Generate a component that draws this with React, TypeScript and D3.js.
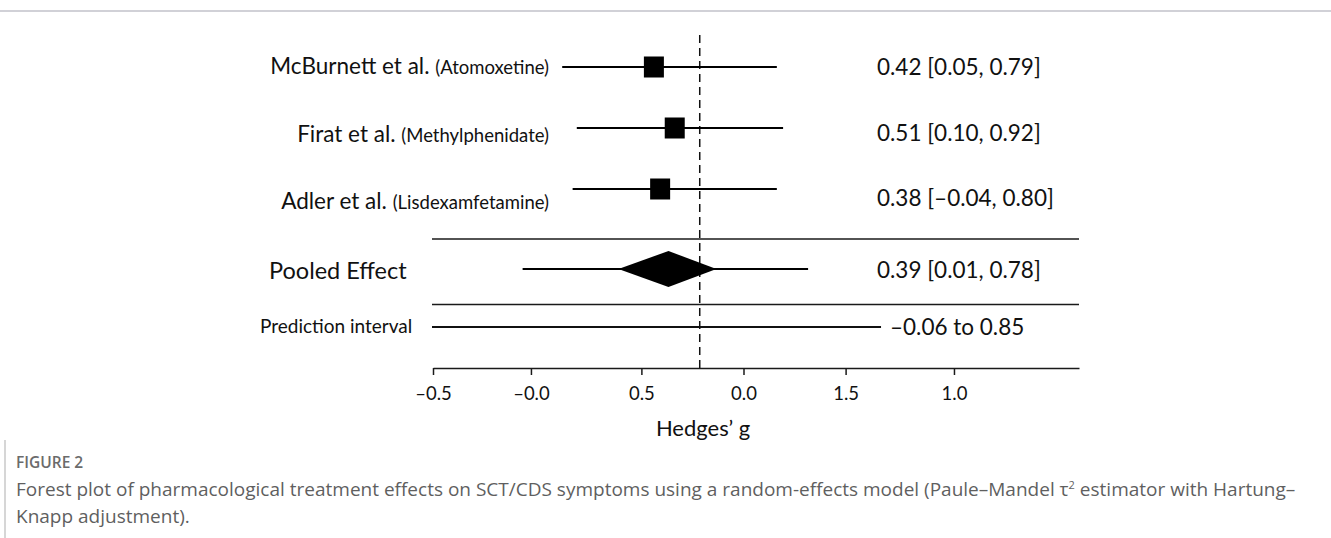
import React, { useEffect, useRef } from "react";
import * as d3 from "d3";

// study rows
const studyNames = ["McBurnett et al.", "Firat et al.", "Adler et al."];
const studyDrugs = ["(Atomoxetine)", "(Methylphenidate)", "(Lisdexamfetamine)"];
// positions (axis units)
const studyEffects = [0.56, 0.66, 0.59];
const studyLower = [0.12, 0.19, 0.17];
const studyUpper = [1.15, 1.18, 1.15];
const studyLabels = ["0.42 [0.05, 0.79]", "0.51 [0.10, 0.92]", "0.38 [–0.04, 0.80]"];

// pooled effect: diamond [low, est, high] and whisker [low, high]
const pooledDiamond = [0.39, 0.63, 0.86];
const pooledWhisker = [-0.07, 1.3];
const pooledLabel = "0.39 [0.01, 0.78]";

const predictionInterval = [-0.5, 1.65];
const predictionLabel = "–0.06 to 0.85";

const refLine = 0.78;

// axis ticks as printed in the figure
const tickValues = [-0.5, -0.03, 0.5, 0.99, 1.48, 2.0];
const tickLabels = ["–0.5", "–0.0", "0.5", "0.0", "1.5", "1.0"];

const FONT = "Lato, 'Open Sans', sans-serif";
const CAPTION_FONT = "'Open Sans', sans-serif";

const ForestPlot = () => {
  const chartRef = useRef(null);

  useEffect(() => {
    drawChart();
  }, []);

  const drawChart = () => {
    const width = 1331;
    const height = 538;

    const svg = d3.select(chartRef.current).attr("width", width).attr("height", height);
    svg.selectAll("*").remove();

    const x = d3.scaleLinear().domain([-0.5, 2.6]).range([433, 1079]);

    // study rows: line position, left label baseline, right label baseline
    const yRow = d3.scalePoint().domain(studyNames).range([67, 189]);
    const yName = d3.scalePoint().domain(studyNames).range([74, 209]);
    const yValue = d3.scalePoint().domain(studyNames).range([75, 206]);

    const yPooled = 269;
    const yPred = 327;
    const yAxis = 368;

    // top rule of the page
    svg
      .append("line")
      .attr("x1", 0)
      .attr("x2", width)
      .attr("y1", 11)
      .attr("y2", 11)
      .attr("stroke", "#a3a3b0")
      .attr("stroke-width", 1.2);

    // separators
    [239, 304.5].forEach((yy) => {
      svg
        .append("line")
        .attr("x1", x(-0.5) - 1)
        .attr("x2", x(2.6))
        .attr("y1", yy)
        .attr("y2", yy)
        .attr("stroke", "#1a1a1a")
        .attr("stroke-width", 1.6);
    });

    // reference dashed line
    svg
      .append("line")
      .attr("x1", x(refLine))
      .attr("x2", x(refLine))
      .attr("y1", 35)
      .attr("y2", yAxis)
      .attr("stroke", "#111")
      .attr("stroke-width", 1.5)
      .attr("stroke-dasharray", "8,5");

    // study whiskers + squares
    studyNames.forEach((name, i) => {
      const cy = yRow(name);
      svg
        .append("line")
        .attr("x1", x(studyLower[i]))
        .attr("x2", x(studyUpper[i]))
        .attr("y1", cy)
        .attr("y2", cy)
        .attr("stroke", "#000")
        .attr("stroke-width", 2);
      svg
        .append("rect")
        .attr("x", x(studyEffects[i]) - 10)
        .attr("y", cy - 10.5)
        .attr("width", 20)
        .attr("height", 21)
        .attr("fill", "#000");

      const label = svg
        .append("text")
        .attr("x", 549)
        .attr("y", yName(name))
        .attr("text-anchor", "end")
        .attr("font-family", FONT)
        .attr("font-size", 22.5)
        .attr("fill", "#111");
      label.append("tspan").text(name + " ");
      label.append("tspan").attr("font-size", 18.5).text(studyDrugs[i]);

      svg
        .append("text")
        .attr("x", 877)
        .attr("y", yValue(name))
        .attr("font-family", FONT)
        .attr("font-size", 22.5)
        .attr("fill", "#111")
        .text(studyLabels[i]);
    });

    // pooled effect
    svg
      .append("line")
      .attr("x1", x(pooledWhisker[0]))
      .attr("x2", x(pooledWhisker[1]))
      .attr("y1", yPooled)
      .attr("y2", yPooled)
      .attr("stroke", "#000")
      .attr("stroke-width", 2);

    const diamond = d3.line();
    svg
      .append("path")
      .attr(
        "d",
        diamond([
          [x(pooledDiamond[0]), yPooled],
          [x(pooledDiamond[1]), yPooled - 18],
          [x(pooledDiamond[2]), yPooled],
          [x(pooledDiamond[1]), yPooled + 18],
        ]) + "Z"
      )
      .attr("fill", "#000");

    svg
      .append("text")
      .attr("x", 269)
      .attr("y", 279)
      .attr("font-family", FONT)
      .attr("font-size", 23.5)
      .attr("fill", "#111")
      .text("Pooled Effect");

    svg
      .append("text")
      .attr("x", 877)
      .attr("y", 278)
      .attr("font-family", FONT)
      .attr("font-size", 22.5)
      .attr("fill", "#111")
      .text(pooledLabel);

    // prediction interval
    svg
      .append("line")
      .attr("x1", x(predictionInterval[0]) - 1)
      .attr("x2", x(predictionInterval[1]))
      .attr("y1", yPred)
      .attr("y2", yPred)
      .attr("stroke", "#111")
      .attr("stroke-width", 1.8);

    svg
      .append("text")
      .attr("x", 260)
      .attr("y", 333)
      .attr("font-family", FONT)
      .attr("font-size", 19)
      .attr("fill", "#111")
      .text("Prediction interval");

    svg
      .append("text")
      .attr("x", 890)
      .attr("y", 335)
      .attr("font-family", FONT)
      .attr("font-size", 22.5)
      .attr("fill", "#111")
      .text(predictionLabel);

    // x axis
    const axis = svg
      .append("g")
      .attr("transform", `translate(0,${yAxis})`)
      .call(
        d3
          .axisBottom(x)
          .tickValues(tickValues)
          .tickFormat((d, i) => tickLabels[i])
          .tickSize(7)
          .tickSizeOuter(0)
          .tickPadding(12)
      );
    axis.select(".domain").attr("stroke", "#1a1a1a").attr("stroke-width", 1.6);
    axis.selectAll(".tick line").attr("stroke", "#1a1a1a").attr("stroke-width", 1.5);
    axis
      .selectAll(".tick text")
      .attr("font-family", FONT)
      .attr("font-size", 18.5)
      .attr("fill", "#111");

    svg
      .append("text")
      .attr("x", 703)
      .attr("y", 436)
      .attr("text-anchor", "middle")
      .attr("font-family", FONT)
      .attr("font-size", 22)
      .attr("fill", "#111")
      .text("Hedges’ g");

    // caption block
    svg
      .append("line")
      .attr("x1", 5)
      .attr("x2", 5)
      .attr("y1", 440)
      .attr("y2", height)
      .attr("stroke", "#c9c9c9")
      .attr("stroke-width", 1.5);

    svg
      .append("text")
      .attr("x", 16)
      .attr("y", 468)
      .attr("font-family", CAPTION_FONT)
      .attr("font-size", 15.5)
      .attr("font-weight", 600)
      .attr("fill", "#6b6b6b")
      .text("FIGURE 2");

    const cap = svg
      .append("text")
      .attr("x", 16)
      .attr("y", 496)
      .attr("font-family", CAPTION_FONT)
      .attr("font-size", 19)
      .attr("fill", "#5f5f5f");
    cap
      .append("tspan")
      .text(
        "Forest plot of pharmacological treatment effects on SCT/CDS symptoms using a random-effects model (Paule–Mandel τ"
      );
    cap.append("tspan").attr("font-size", 11).attr("dy", -7).text("2");
    cap.append("tspan").attr("dy", 7).text(" estimator with Hartung–");

    svg
      .append("text")
      .attr("x", 16)
      .attr("y", 523)
      .attr("font-family", CAPTION_FONT)
      .attr("font-size", 19)
      .attr("fill", "#5f5f5f")
      .text("Knapp adjustment).");
  };

  return <svg ref={chartRef} style={{ position: "absolute", left: 0, top: 0 }}></svg>;
};

export default function App() {
  return <ForestPlot />;
}
